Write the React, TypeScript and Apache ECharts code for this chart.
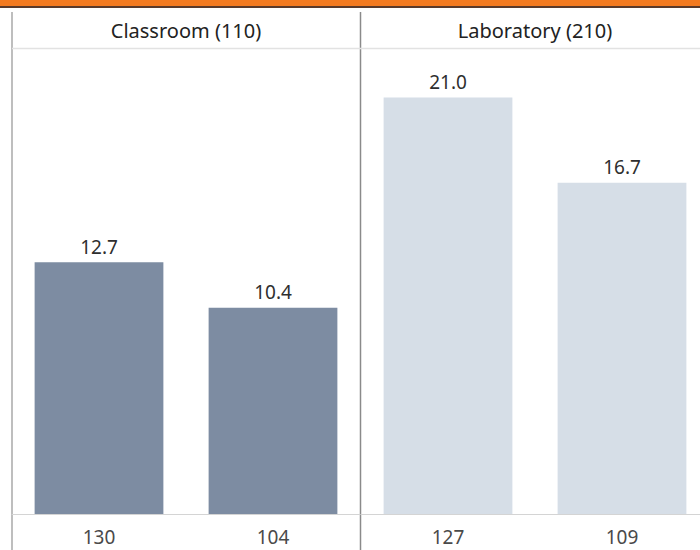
import React, { useEffect, useRef } from "react";
import * as echarts from "echarts";

const panels = ["Classroom (110)", "Laboratory (210)"];
const classroomCounts = ["130", "104"];
const classroomValues = [12.7, 10.4];
const labCounts = ["127", "109"];
const labValues = [21.0, 16.7];
const panelColors = ["#7d8ca2", "#d6dee7"];

export default function App() {
  const ref = useRef<HTMLDivElement>(null);
  useEffect(() => {
    if (!ref.current) return;
    const chart = echarts.init(ref.current, null, { renderer: "svg" });
    const font = "Noto Sans";
    const grids = [
      { left: 12, top: 48, width: 348, height: 466 },
      { left: 361, top: 48, width: 348, height: 466 },
    ];
    const cats = [classroomCounts, labCounts];
    const vals = [classroomValues, labValues];
    chart.setOption({
      animation: false,
      backgroundColor: "#ffffff",
      grid: grids,
      xAxis: cats.map((c, i) => ({
        type: "category",
        gridIndex: i,
        data: c,
        axisLine: { show: true, lineStyle: { color: "#d4d4d4", width: 1 } },
        axisTick: { show: false },
        axisLabel: {
          margin: 13,
          fontSize: 19,
          fontFamily: font,
          color: "#4a4a4a",
        },
      })),
      yAxis: cats.map((_, i) => ({
        type: "value",
        gridIndex: i,
        min: 0,
        max: 23.5,
        show: false,
        splitLine: { show: false },
      })),
      series: vals.map((v, i) => ({
        type: "bar",
        xAxisIndex: i,
        yAxisIndex: i,
        data: v,
        barWidth: "74%",
        itemStyle: { color: panelColors[i] },
        label: {
          show: true,
          position: "top",
          distance: 6,
          fontSize: 19,
          fontFamily: font,
          color: "#2e2e2e",
          formatter: (p: any) => Number(p.value).toFixed(1),
        },
      })),
      graphic: [
        { type: "rect", shape: { x: 0, y: 0, width: 720, height: 6 }, style: { fill: "#f47b20" }, silent: true },
        { type: "rect", shape: { x: 0, y: 6, width: 720, height: 2 }, style: { fill: "#5b3b2b" }, silent: true },
        { type: "line", shape: { x1: 12, y1: 12, x2: 12, y2: 550 }, style: { stroke: "#a8a8a8", lineWidth: 1.5 }, silent: true },
        { type: "line", shape: { x1: 360.5, y1: 12, x2: 360.5, y2: 550 }, style: { stroke: "#8a8a8a", lineWidth: 1.5 }, silent: true },
        { type: "line", shape: { x1: 12, y1: 48.5, x2: 720, y2: 48.5 }, style: { stroke: "#e2e2e2", lineWidth: 1.5 }, silent: true },
        ...panels.map((p, i) => ({
          type: "text",
          x: grids[i].left + 174,
          y: 30,
          style: {
            text: p,
            fontSize: 20,
            fontFamily: font,
            fontWeight: "normal",
            fill: "#222222",
            align: "center",
            verticalAlign: "middle",
          },
          silent: true,
        })),
      ],
    });
    return () => chart.dispose();
  }, []);
  return (
    <div style={{ position: "fixed", left: 0, top: 0, width: 700, height: 550, overflow: "hidden" }}>
      <div ref={ref} style={{ width: 720, height: 550 }} />
    </div>
  );
}
